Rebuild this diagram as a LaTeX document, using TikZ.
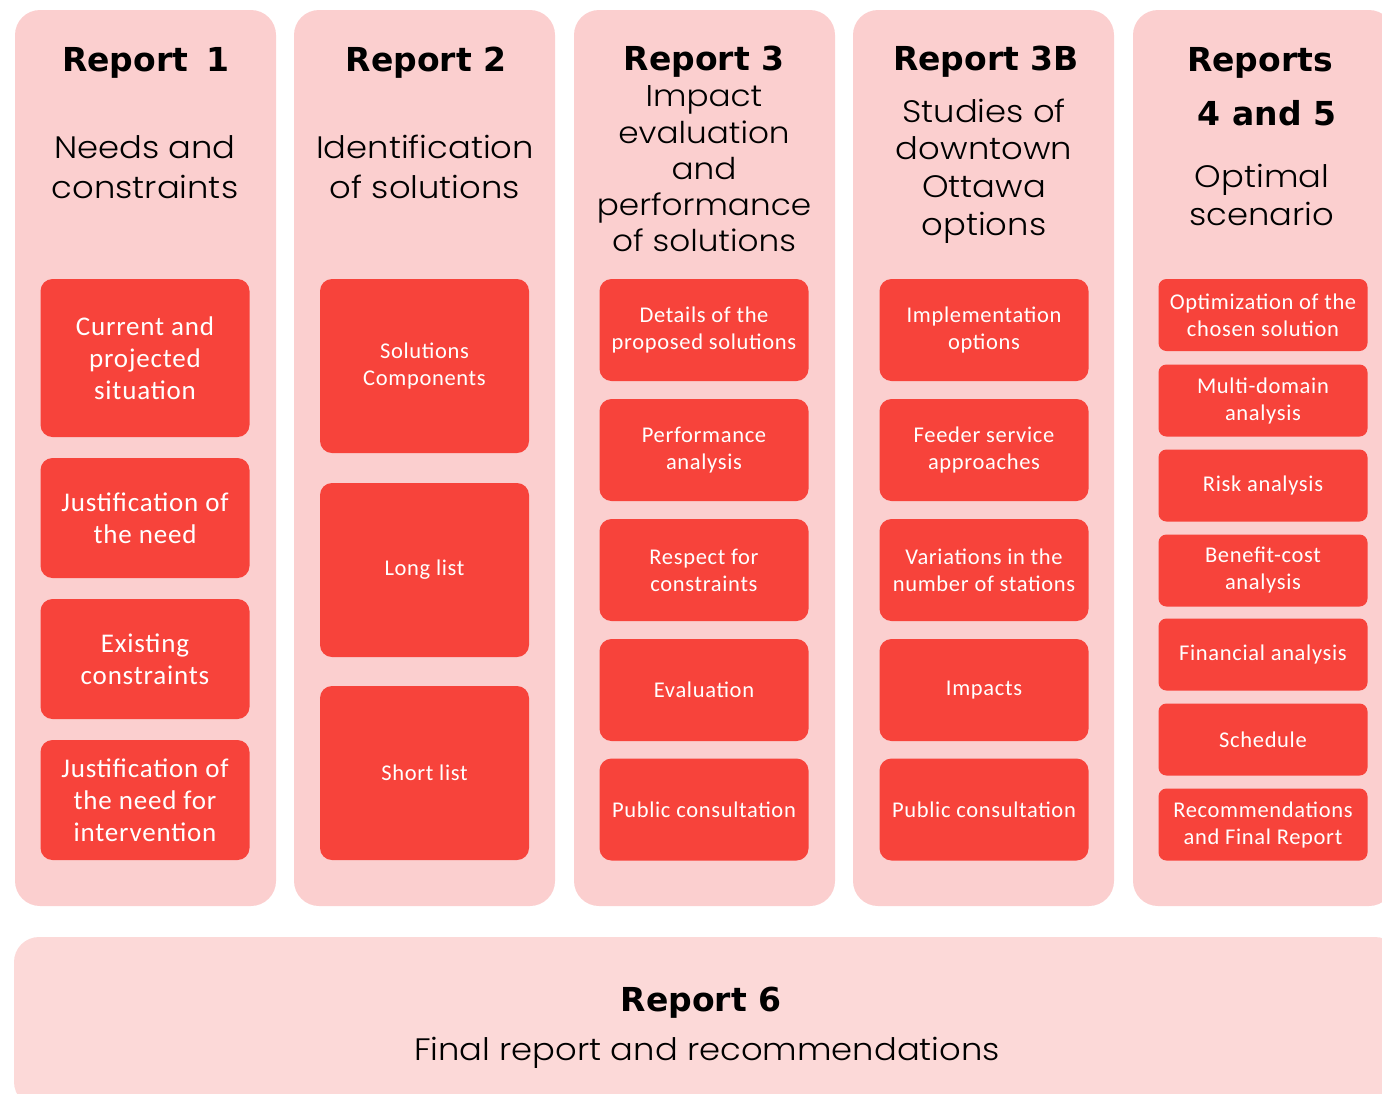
\documentclass[tikz,border=0pt]{standalone}
\usepackage{fontspec}
\setmainfont{Carlito}[LetterSpace=3]
\newfontfamily\headfont{DejaVu Sans Bold}
\newfontfamily\subfont{Poppins Light}[FakeStretch=1.09]
\definecolor{colbg}{HTML}{FBCFCF}
\definecolor{basebg}{HTML}{FCD9D8}
\definecolor{itembg}{HTML}{F7433B}
\begin{document}
\begin{tikzpicture}[x=1pt,y=-1pt,
  column/.style={fill=colbg, rounded corners=25pt, minimum width=261pt, minimum height=896pt, inner sep=0pt},
  base/.style={fill=basebg, rounded corners=25pt, minimum width=1386pt, minimum height=170pt, inner sep=0pt},
  item/.style={fill=itembg, rounded corners=12pt, minimum width=209pt, text=white, align=center, inner sep=0pt},
  big/.style={font=\fontsize{27}{32}\selectfont},
  mid/.style={font=\fontsize{22.5}{27}\selectfont},
  head/.style={font=\headfont\fontsize{33}{38}\selectfont, inner sep=0pt, anchor=base},
  sub/.style={font=\subfont\fontsize{31}{40}\selectfont, align=center, inner sep=0pt}]
\useasboundingbox (0,0) rectangle (1382,1093);
\clip (0,0) rectangle (1382,1093);

% five report columns
\node[column] (c1) at (145.5,458) {};
\node[column] (c2) at (424.5,458) {};
\node[column] (c3) at (704.5,458) {};
\node[column] (c4) at (983.5,458) {};
\node[column] (c5) at (1263.5,458) {};

% column headings
\node[head] (h1) at (146,71) {Report\hspace{7pt} 1};
\node[sub] (s1) at (145,167) {Needs and\\constraints};
\node[head] (h2) at (426,71) {Report 2};
\node[sub] (s2) at (425,167) {Identification\\of solutions};
\node[head] (h3) at (704,70) {Report 3};
\node[sub, font=\subfont\fontsize{30}{36.3}\selectfont] (s3) at (704,169) {Impact\\evaluation\\and\\performance\\of solutions};
\node[head] (h4) at (986,70) {Report 3B};
\node[sub, font=\subfont\fontsize{31}{37.7}\selectfont] (s4) at (984,171) {Studies of\\downtown\\Ottawa\\options};
\node[head] (h5a) at (1260,71) {Reports};
\node[head] (h5b) at (1267,125) {4 and 5};
\node[sub, font=\subfont\fontsize{31}{38}\selectfont] (s5) at (1262,195) {Optimal\\scenario};

% Report 1 items
\node[item, big, minimum height=158pt] (r1a) at (145,358) {Current and\\projected\\situation};
\node[item, big, minimum height=120pt] (r1b) at (145,518) {Justification of\\the need};
\node[item, big, minimum height=120pt] (r1c) at (145,659) {Existing\\constraints};
\node[item, big, minimum height=120pt] (r1d) at (145,800) {Justification of\\the need for\\intervention};

% Report 2 items
\node[item, mid, minimum height=174pt] (r2a) at (424.5,366) {Solutions\\Components};
\node[item, mid, minimum height=174pt] (r2b) at (424.5,570) {Long list};
\node[item, mid, minimum height=174pt] (r2c) at (424.5,773) {Short list};

% Report 3 items
\node[item, mid, minimum height=102pt] (r3a) at (704,330) {Details of the\\proposed solutions};
\node[item, mid, minimum height=102pt] (r3b) at (704,450) {Performance\\analysis};
\node[item, mid, minimum height=102pt] (r3c) at (704,570) {Respect for\\constraints};
\node[item, mid, minimum height=102pt] (r3d) at (704,690) {Evaluation};
\node[item, mid, minimum height=102pt] (r3e) at (704,809.5) {Public consultation};

% Report 3B items
\node[item, mid, minimum height=102pt] (r4a) at (984,330) {Implementation\\options};
\node[item, mid, minimum height=102pt] (r4b) at (984,450) {Feeder service\\approaches};
\node[item, mid, minimum height=102pt] (r4c) at (984,570) {Variations in the\\number of stations};
\node[item, mid, minimum height=102pt] (r4d) at (984,690) {Impacts\vphantom{I}};
\node[item, mid, minimum height=102pt] (r4e) at (984,809.5) {Public consultation};

% Reports 4 and 5 items
\node[item, mid, rounded corners=8pt, minimum height=72pt] (r5a) at (1263,315) {Optimization of the\\chosen solution};
\node[item, mid, rounded corners=8pt, minimum height=72pt] (r5b) at (1263,400.5) {Multi-domain\\analysis};
\node[item, mid, rounded corners=8pt, minimum height=72pt] (r5c) at (1263,485.5) {Risk analysis};
\node[item, mid, rounded corners=8pt, minimum height=72pt] (r5d) at (1263,570.5) {Benefit-cost\\analysis};
\node[item, mid, rounded corners=8pt, minimum height=72pt] (r5e) at (1263,654.5) {Financial analysis};
\node[item, mid, rounded corners=8pt, minimum height=72pt] (r5f) at (1263,739.5) {Schedule};
\node[item, mid, rounded corners=8pt, minimum height=72pt] (r5g) at (1263,824.5) {Recommendations\\and Final Report};

% final report band
\node[base] (b6) at (707,1022) {};
\node[head] (h6) at (701,1011) {Report 6};
\node[sub, anchor=base] (s6) at (707,1060) {Final report and recommendations};
\end{tikzpicture}
\end{document}
